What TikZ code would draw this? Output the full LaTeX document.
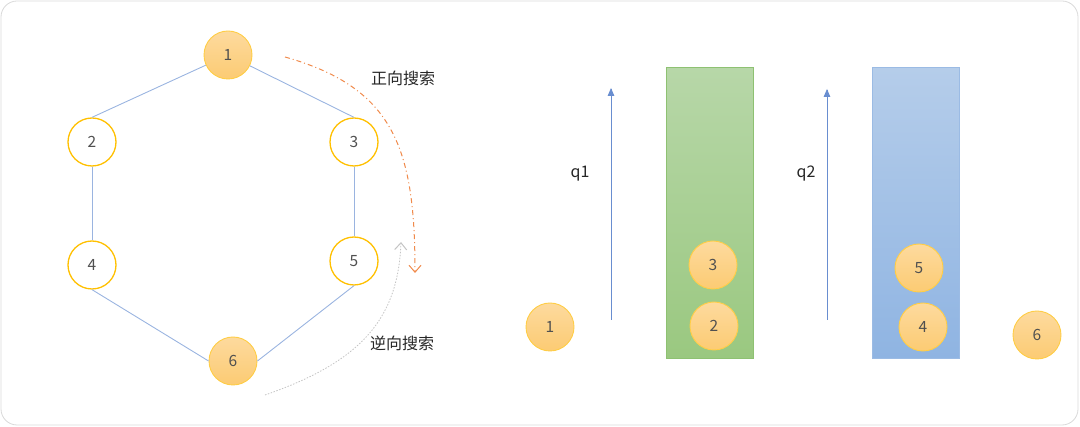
\documentclass[tikz,border=0pt]{standalone}
\usepackage{fontspec}
\setmainfont{Noto Sans CJK SC}
\usepackage{tikz}
\usetikzlibrary{arrows,arrows.meta,positioning}
\definecolor{edgeblue}{HTML}{9AB4E0}
\definecolor{ringgold}{HTML}{FFC000}
\definecolor{ballrim}{HTML}{FFCD45}
\definecolor{balltop}{HTML}{FDDA9E}
\definecolor{ballbot}{HTML}{FCCB73}
\definecolor{numgray}{HTML}{505050}
\definecolor{fwdorange}{HTML}{F08A4B}
\definecolor{backgray}{HTML}{C4C4C4}
\definecolor{qgreentop}{HTML}{B7D7A8}
\definecolor{qgreenbot}{HTML}{9AC880}
\definecolor{qgreenrim}{HTML}{8EC172}
\definecolor{qbluetop}{HTML}{B5CDEA}
\definecolor{qbluebot}{HTML}{8FB4E2}
\definecolor{qbluerim}{HTML}{9BBBE4}
\definecolor{arrowblue}{HTML}{4472C4}

\begin{document}
\begin{tikzpicture}[x=1pt,y=-1pt,
vertex/.style={
circle,
draw=ringgold,
line width=1.3pt,
fill=white,
minimum size=48pt,
inner sep=0pt,
text=numgray,
font=\fontsize{15.5}{15.5}\selectfont,
},
ball/.style={
vertex,
draw=ballrim,
line width=0.9pt,
top color=balltop,
bottom color=ballbot,
},
queue/.style={
rectangle,
minimum width=87pt,
minimum height=291pt,
line width=0.8pt,
},
caption/.style={
text=black!85,
font=\fontsize{16}{16}\selectfont,
},
search/.style={
-{Straight Barb[length=7pt,width=12pt,line width=1pt]},
}
]
\useasboundingbox (0,0) rectangle (1080,427);
\draw[black!15, line width=0.8pt, rounded corners=16pt] (1,1) rectangle (1078,425);

% graph
\node [ball]   (v1) at (228,55)  {1};
\node [vertex] (v2) at (92,142)  {2};
\node [vertex] (v3) at (354,142) {3};
\node [vertex] (v4) at (92,265)  {4};
\node [vertex] (v5) at (354,261) {5};
\node [ball]   (v6) at (233,361) {6};

\foreach \i/\j in {v1/v2.north, v1/v3.north, v2.south/v4.north, v3.south/v5.north, v4.south/v6.west, v5.south/v6.east}
		\draw[edgeblue, line width=0.9pt] (\i) -- (\j);

% search directions
\coordinate (fwdstart) at (285,57);
\coordinate (fwdend)   at (415,273);
\coordinate (backstart) at (265,395);
\coordinate (backend)   at (401,242);
\draw[search, fwdorange, line width=1pt, dash pattern=on 5pt off 3pt on 1pt off 3pt]
		(fwdstart) .. controls (395,88) and (415,150) .. (fwdend);
\draw[search, backgray, line width=0.8pt, dash pattern=on 1.5pt off 1.5pt]
		(backstart) .. controls (360,362) and (398,320) .. (backend);
\node [caption] (fwdlabel)  at (403,78)  {正向搜索};
\node [caption] (backlabel) at (402,343) {逆向搜索};

% two queues
\node [ball] (s1) at (550,327) {1};
\node [queue, draw=qgreenrim, top color=qgreentop, bottom color=qgreenbot] (qa) at (710,213) {};
\node [ball] (a3) at (713,265) {3};
\node [ball] (a2) at (714,326) {2};

\node [queue, draw=qbluerim, top color=qbluetop, bottom color=qbluebot] (qb) at (915.5,213) {};
\node [ball] (b5) at (919,268) {5};
\node [ball] (b4) at (923,327) {4};
\node [ball] (s6) at (1037,335) {6};

\coordinate (qafoot) at (611,320);
\coordinate (qahead) at (611,88);
\coordinate (qbfoot) at (827,320);
\coordinate (qbhead) at (827,89);
\draw[-triangle 45, arrowblue!80, line width=0.8pt] (qafoot) -- (qahead);
\draw[-triangle 45, arrowblue!80, line width=0.8pt] (qbfoot) -- (qbhead);
\node [caption] (qalabel) at (580,174) {q1};
\node [caption] (qblabel) at (806,174) {q2};
\end{tikzpicture}
\end{document}
